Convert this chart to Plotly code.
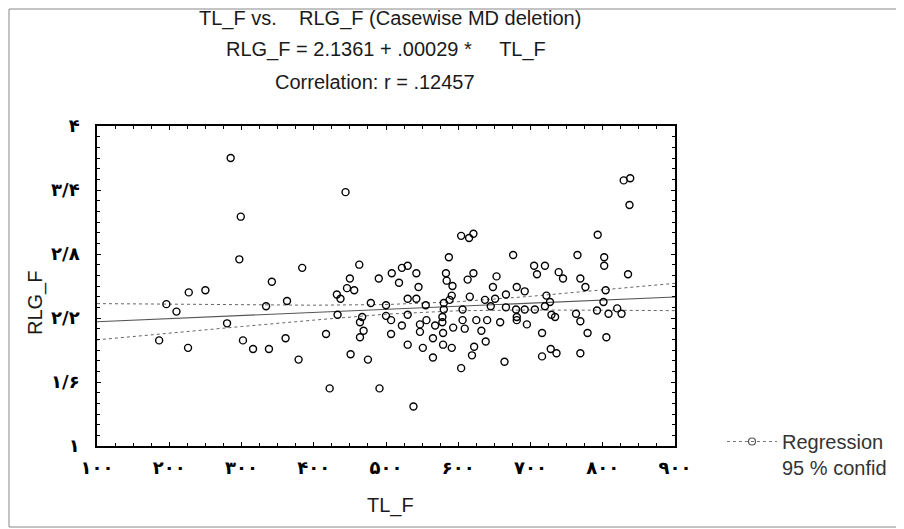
import plotly.graph_objects as go

# ---- data ----
tl_f = [285, 444, 299, 297, 384, 463, 342, 227, 250, 450, 490, 508, 522, 530, 518, 446, 456, 432, 437,
        196, 210, 334, 363, 479, 500, 530, 433, 280, 467, 464, 500, 507, 522, 530, 417, 469, 464, 507,
        186, 226, 302, 316, 338, 361, 379, 451, 475, 530, 422, 491,
        829, 838, 837, 604, 615, 621, 793, 587, 676, 765, 802, 802, 705, 720, 709, 835, 739, 745, 769,
        776, 804, 542, 583, 584, 592, 613, 621, 653, 648, 681, 692, 545, 542, 555, 580, 588, 591, 616,
        637, 651, 645, 666, 666, 680, 692, 706, 722, 727, 720, 580, 578, 606, 763, 792, 801, 808, 820,
        826, 729, 734, 681, 681, 556, 547, 568, 578, 593, 606, 625, 640, 658, 695, 769, 609, 632, 547,
        579, 716, 779, 805, 565, 579, 551, 565, 591, 604, 622, 619, 638, 664, 716, 728, 736, 769, 538]
rlg_f = [3.70, 3.38, 3.15, 2.75, 2.67, 2.70, 2.54, 2.44, 2.46, 2.57, 2.57, 2.62, 2.67, 2.69, 2.53, 2.48,
         2.46, 2.42, 2.38, 2.33, 2.26, 2.31, 2.36, 2.34, 2.32, 2.38, 2.23, 2.15, 2.21, 2.16, 2.22, 2.18,
         2.13, 2.23, 2.05, 2.08, 2.02, 2.05,
         1.99, 1.92, 1.99, 1.91, 1.91, 2.01, 1.81, 1.86, 1.81, 1.95, 1.54, 1.54,
         3.49, 3.51, 3.26, 2.97, 2.95, 2.99, 2.98, 2.77, 2.79, 2.79, 2.77, 2.69, 2.69, 2.69, 2.61, 2.61,
         2.63, 2.57, 2.57, 2.49, 2.46, 2.62, 2.62, 2.55, 2.50, 2.56, 2.62, 2.59, 2.49, 2.49, 2.45, 2.49,
         2.38, 2.32, 2.34, 2.37, 2.41, 2.40, 2.37, 2.38, 2.31, 2.42, 2.30, 2.28, 2.28, 2.28, 2.41, 2.35,
         2.31, 2.28, 2.21, 2.28, 2.24, 2.27, 2.35, 2.24, 2.29, 2.24, 2.23, 2.21, 2.21, 2.18, 2.18, 2.14,
         2.13, 2.16, 2.11, 2.18, 2.18, 2.18, 2.16, 2.14, 2.17, 2.10, 2.08, 2.07, 2.06, 2.06, 2.06, 2.02,
         2.01, 1.95, 1.92, 1.83, 1.92, 1.73, 1.93, 1.85, 1.98, 1.79, 1.84, 1.91, 1.87, 1.87, 1.37]

fit_x = [100, 200, 300, 400, 500, 600, 700, 800, 900]
fit_y = [2.165, 2.194, 2.223, 2.252, 2.281, 2.310, 2.339, 2.368, 2.397]
conf_upper = [2.335, 2.330, 2.325, 2.320, 2.326, 2.353, 2.403, 2.463, 2.525]
conf_lower = [1.995, 2.060, 2.120, 2.180, 2.236, 2.268, 2.275, 2.273, 2.269]

x_tickvals = [100, 200, 300, 400, 500, 600, 700, 800, 900]
x_ticktext = ["۱۰۰", "۲۰۰", "۳۰۰", "۴۰۰", "۵۰۰", "۶۰۰", "۷۰۰", "۸۰۰", "۹۰۰"]
y_tickvals = [1, 1.6, 2.2, 2.8, 3.4, 4]
y_ticktext = ["۱", "۱/۶", "۲/۲", "۲/۸", "۳/۴", "۴"]

title_lines = ["TL_F vs.\u00a0\u00a0\u00a0 RLG_F (Casewise MD deletion)",
               "RLG_F = 2.1361 + .00029 *\u00a0\u00a0\u00a0\u00a0 TL_F",
               "Correlation: r = .12457"]
legend_label = "Regression<br>95 % confid"

FONT = "Liberation Sans, Arial, sans-serif"
TICKFONT = dict(family="DejaVu Sans", size=18, color="black", weight="bold")

fig = go.Figure()

fig.add_trace(go.Scatter(x=fit_x, y=conf_upper, mode="lines", showlegend=False,
                         line=dict(color="#666", width=1, dash="dot"), hoverinfo="skip"))
fig.add_trace(go.Scatter(x=fit_x, y=conf_lower, mode="lines", showlegend=False,
                         line=dict(color="#666", width=1, dash="dot"), hoverinfo="skip"))
fig.add_trace(go.Scatter(x=fit_x, y=fit_y, mode="lines", showlegend=False,
                         line=dict(color="#555", width=1.1), hoverinfo="skip"))
fig.add_trace(go.Scatter(x=tl_f, y=rlg_f, mode="markers", showlegend=False,
                         marker=dict(symbol="circle-open", size=7, color="black",
                                     line=dict(width=1.4, color="black"))))
# legend entry only
fig.add_trace(go.Scatter(x=[None], y=[None], mode="lines+markers", name=legend_label,
                         line=dict(color="#777", width=1, dash="dot"),
                         marker=dict(symbol="circle-open", size=7, color="#555",
                                     line=dict(width=1.2, color="#555"))))

# the page body adds an 8px offset; target pixel positions are compensated for it
OFF = 8
W, H = 904 - OFF, 529 - OFF
L, T = 97 - OFF, 126 - OFF
pw, ph = 578, 320
R, B = W - L - pw, H - T - ph

def px(xp):
    return (xp - OFF - L) / pw

def py(yp):
    return (T + ph - (yp - OFF)) / ph

ann = []
for txt, cx, cy in zip(title_lines, [390, 386, 375], [18, 50, 82]):
    ann.append(dict(text=txt, x=px(cx), y=py(cy), xref="paper", yref="paper",
                    xanchor="center", yanchor="middle", showarrow=False,
                    font=dict(family=FONT, size=20, color="#1a1a1a")))
ann.append(dict(text="RLG_F", x=px(35), y=py(303), xref="paper", yref="paper", textangle=-90,
                xanchor="center", yanchor="middle", showarrow=False,
                font=dict(family=FONT, size=20, color="#1a1a1a")))
ann.append(dict(text="TL_F", x=px(390), y=py(505), xref="paper", yref="paper",
                xanchor="center", yanchor="middle", showarrow=False,
                font=dict(family=FONT, size=20, color="#1a1a1a")))

fig.update_layout(
    width=W, height=H,
    margin=dict(l=L, r=R, t=T, b=B, pad=0),
    paper_bgcolor="white", plot_bgcolor="white",
    annotations=ann,
    showlegend=True,
    legend=dict(x=px(722), y=py(422), xanchor="left", yanchor="top", valign="top",
                itemwidth=50, bgcolor="rgba(0,0,0,0)",
                font=dict(family=FONT, size=20, color="#333")),
    shapes=[dict(type="rect", xref="paper", yref="paper",
                 x0=px(9), x1=px(910), y0=py(527), y1=py(9),
                 line=dict(color="#888", width=1))],
    xaxis=dict(range=[100, 900], tickvals=x_tickvals, ticktext=x_ticktext, tickfont=TICKFONT,
               showline=True, linecolor="black", linewidth=1.5, mirror="allticks",
               ticks="inside", ticklen=4, tickcolor="black", ticklabelstandoff=5,
               minor=dict(ticks="inside", ticklen=3, dtick=25, tickcolor="black"),
               showgrid=False, zeroline=False),
    yaxis=dict(range=[1, 4], tickvals=y_tickvals, ticktext=y_ticktext, tickfont=TICKFONT,
               showline=True, linecolor="black", linewidth=1.5, mirror="allticks",
               ticks="inside", ticklen=4, tickcolor="black", ticklabelstandoff=12,
               minor=dict(ticks="inside", ticklen=3, dtick=0.1, tickcolor="black"),
               showgrid=False, zeroline=False),
)

fig.write_html("out.html")
